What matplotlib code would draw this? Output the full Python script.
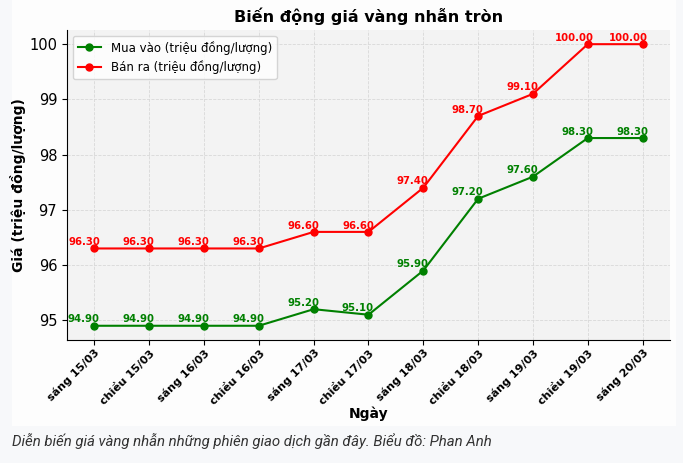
# -*- coding: utf-8 -*-
''' Biến động giá vàng nhẫn tròn '''
import matplotlib
matplotlib.use('Agg')
from matplotlib import pyplot as plt
from matplotlib.patches import Rectangle

phien = ['sáng 15/03', 'chiều 15/03', 'sáng 16/03', 'chiều 16/03', 'sáng 17/03',
         'chiều 17/03', 'sáng 18/03', 'chiều 18/03', 'sáng 19/03', 'chiều 19/03',
         'sáng 20/03']
mua_vao = [94.9, 94.9, 94.9, 94.9, 95.2, 95.1, 95.9, 97.2, 97.6, 98.3, 98.3]
ban_ra = [96.3, 96.3, 96.3, 96.3, 96.6, 96.6, 97.4, 98.7, 99.1, 100.0, 100.0]

fig = plt.figure(figsize=(6.83, 4.63), dpi=100, facecolor='#f7f8fa')
# nền trắng của ảnh biểu đồ
fig.patches.append(Rectangle((12 / 683, 1 - 426 / 463), 664 / 683, 426 / 463,
                             transform=fig.transFigure, facecolor='#fdfdfd',
                             edgecolor='none', zorder=-10))
ax = fig.add_axes([0.098, 0.266, 0.883, 0.669])
ax.set_facecolor('#f3f3f3')

x = range(len(phien))
ax.plot(x, mua_vao, color='green', marker='o', markersize=5, linewidth=1.5,
        label='Mua vào (triệu đồng/lượng)')
ax.plot(x, ban_ra, color='red', marker='o', markersize=5, linewidth=1.5,
        label='Bán ra (triệu đồng/lượng)')

for i, (m, b) in enumerate(zip(mua_vao, ban_ra)):
    ax.annotate(f'{m:.2f}', (i, m), xytext=(4, 1), textcoords='offset points',
                ha='right', va='bottom', fontsize=7.3, fontweight='bold', color='green')
    ax.annotate(f'{b:.2f}', (i, b), xytext=(4, 1), textcoords='offset points',
                ha='right', va='bottom', fontsize=7.3, fontweight='bold', color='red')

ax.set_xticks(list(x))
ax.set_xticklabels(phien, rotation=45, ha='right', rotation_mode='anchor',
                   fontsize=8, fontweight='bold')
ax.tick_params(axis='x', pad=2)
ax.tick_params(axis='y', labelsize=10.5)
ax.grid(True, linestyle='--', color='#d8d8d8', linewidth=0.6)
ax.set_axisbelow(True)
for s in ['top', 'right']:
    ax.spines[s].set_visible(False)

ax.set_title('Biến động giá vàng nhẫn tròn', fontsize=11.5, fontweight='bold', pad=6)
ax.set_xlabel('Ngày', fontsize=10, fontweight='bold')
ax.xaxis.set_label_coords(0.5, -0.215)
ax.set_ylabel('Giá (triệu đồng/lượng)', fontsize=10, fontweight='bold', labelpad=2)
ax.legend(loc='upper left', fontsize=8.5, frameon=True, facecolor='white')

fig.text(12 / 683, 1 - 441 / 463, 'Diễn biến giá vàng nhẫn những phiên giao dịch gần đây. Biểu đồ: Phan Anh',
         fontsize=10.8, style='italic', family='Roboto', color='#333333', va='center')

plt.savefig('out.png', dpi=100, facecolor=fig.get_facecolor())
